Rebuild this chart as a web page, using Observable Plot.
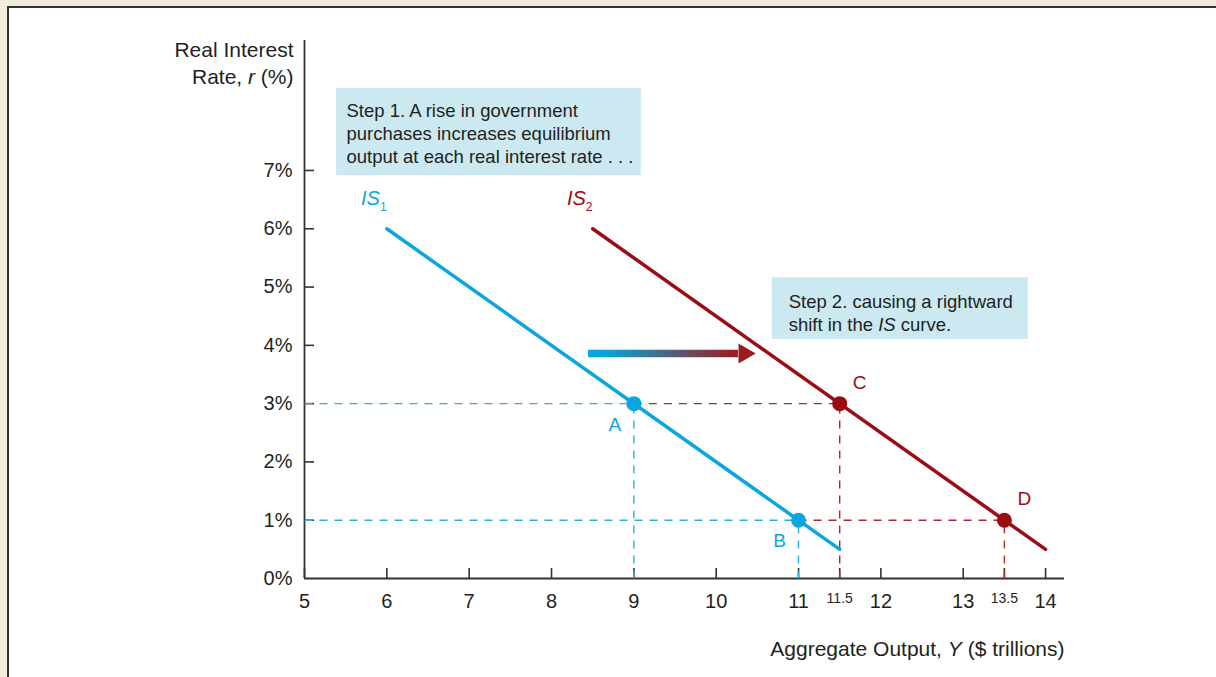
<!DOCTYPE html>
<html><head><meta charset="utf-8">
<script src="https://cdn.jsdelivr.net/npm/d3@7"></script>
<script src="https://cdn.jsdelivr.net/npm/@observablehq/plot@0.6"></script>
<style>
html,body{margin:0;padding:0;}
body{width:1216px;height:677px;background:#f3ecdc;position:relative;overflow:hidden;font-family:"Liberation Sans",Arial,Helvetica,sans-serif;}
#panel{position:absolute;left:7px;top:6px;right:0;bottom:0;background:#fff;border-left:2px solid #333;border-top:2px solid #333;}
#chart{position:absolute;left:0;top:0;}
</style></head><body><div id="panel"></div><div id="chart"></div>
<script>
// ---- data ----
const xTicks = [5, 6, 7, 8, 9, 10, 11, 12, 13, 14];
const xExtraTicks = [11.5, 13.5];
const yTicks = [0, 1, 2, 3, 4, 5, 6, 7];
const curveNames = ["IS1", "IS2"];
const curveStartY = [6, 8.5];
const curveEndY = [11.5, 14];
const curveStartR = [6, 6];
const curveEndR = [0.5, 0.5];
const pointNames = ["A", "B", "C", "D"];
const pointCurve = ["IS1", "IS1", "IS2", "IS2"];
const pointY = [9, 11, 11.5, 13.5];
const pointR = [3, 1, 3, 1];
const pointLabelSide = ["below-left", "below-left", "above-right", "above-right"];
const noteTexts = [
  "Step 1. A rise in government\npurchases increases equilibrium\noutput at each real interest rate . . .",
  "Step 2. causing a rightward\nshift in the IS curve."
];
const noteLeft = [5.39, 10.68];
const noteRight = [9.09, 13.79];
const noteTop = [8.41, 5.16];
const noteBottom = [6.91, 4.10];
const noteTextX = [5.51, 10.88];
const noteTextY = [8.19, 4.915];
const shiftFrom = 8.45, shiftTo = 10.27, shiftR = 3.86;
const yTitle = "Real Interest\nRate, r (%)";
const xTitle = "Aggregate Output, Y ($ trillions)";

// ---- styles ----
const lineColor = {IS1: "#0ba6df", IS2: "#990d13"};
const guideColor = {IS1: "#2aaee3", IS2: "#a62a2f"};
const ink = "#231f20";
const FONT = '"Liberation Sans", Arial, Helvetica, sans-serif';

// ---- tables ----
const curves = curveNames.flatMap((c, i) => [
  {curve: c, y: curveStartY[i], r: curveStartR[i]},
  {curve: c, y: curveEndY[i], r: curveEndR[i]}
]);
const curveLabels = curveNames.map((c, i) => ({curve: c, y: curveStartY[i], r: curveStartR[i]}));
const points = pointNames.map((n, i) => ({name: n, curve: pointCurve[i], y: pointY[i], r: pointR[i], side: pointLabelSide[i]}));
const guides = [];
points.forEach(p => {
  const left = p.curve === "IS1" ? xTicks[0] : points.find(q => q.curve === "IS1" && q.r === p.r).y;
  guides.push({x1: left, x2: p.y, y1: p.r, y2: p.r, curve: p.curve});
  guides.push({x1: p.y, x2: p.y, y1: 0, y2: p.r, curve: p.curve});
});
const notes = noteTexts.map((t, i) => ({text: t, x1: noteLeft[i], x2: noteRight[i], y1: noteBottom[i], y2: noteTop[i], tx: noteTextX[i], ty: noteTextY[i]}));
const shift = [{x1: shiftFrom, x2: shiftTo, y: shiftR}];

const gradientDefs = (index, scales) => {
  const defs = d3.create("svg:defs");
  const g = defs.append("linearGradient").attr("id", "shiftGrad")
    .attr("gradientUnits", "userSpaceOnUse")
    .attr("x1", scales.x(shiftFrom)).attr("x2", scales.x(shiftTo))
    .attr("y1", 0).attr("y2", 0);
  g.append("stop").attr("offset", "0").attr("stop-color", "#00aae4");
  g.append("stop").attr("offset", "0.12").attr("stop-color", "#0ba3d6");
  g.append("stop").attr("offset", "1").attr("stop-color", "#9b1c1c");
  return defs.node();
};

const plot = Plot.plot({
  width: 1216,
  height: 677,
  marginLeft: 304,
  marginRight: 152,
  marginTop: 40,
  marginBottom: 99,
  style: {background: "none", fontFamily: FONT, color: ink, overflow: "visible"},
  x: {domain: [5, 14.23]},
  y: {domain: [0, 9.23]},
  marks: [
    gradientDefs,
    // annotation boxes
    Plot.rect(notes, {x1: "x1", x2: "x2", y1: "y1", y2: "y2", fill: "#cce9f1"}),
    Plot.text(notes, {x: "tx", y: "ty", text: "text", textAnchor: "start", lineAnchor: "top", fontSize: 18.5, lineHeight: 1.24, fill: ink}),
    // axes lines
    Plot.ruleY([0], {stroke: "#333", strokeWidth: 1.8}),
    Plot.ruleX([5], {stroke: "#333", strokeWidth: 1.8}),
    // ticks
    Plot.axisX(xTicks.concat(xExtraTicks), {tickSize: -10, text: null, stroke: "#333", strokeWidth: 1.6}),
    Plot.axisX(xTicks, {tickSize: 0, tickPadding: 15, fontSize: 20, fill: ink, label: null, tickFormat: d => String(d)}),
    Plot.axisX(xExtraTicks, {tickSize: 0, tickPadding: 15, fontSize: 14, fill: ink, label: null, tickFormat: d => String(d)}),
    Plot.axisY(yTicks.slice(1), {tickSize: -10, text: null, stroke: "#333", strokeWidth: 1.6}),
    Plot.axisY(yTicks, {tickSize: 0, tickPadding: 12, fontSize: 20, fill: ink, label: null, tickFormat: d => d + "%"}),
    // axis titles
    Plot.text([yTitle], {frameAnchor: "top-left", text: d => d, textAnchor: "end", lineAnchor: "top", dx: -11, dy: -3, fontSize: 21, lineHeight: 1.3, fill: ink}),
    Plot.text([xTitle], {frameAnchor: "bottom-right", text: d => d, textAnchor: "end", lineAnchor: "top", dy: 62.5, fontSize: 21, fill: ink}),
    // guides
    Plot.link(guides, {x1: "x1", y1: "y1", x2: "x2", y2: "y2", stroke: d => guideColor[d.curve], strokeWidth: 1.4, strokeDasharray: "8,7"}),
    // shift arrow
    Plot.ruleY(shift, {y: "y", x1: "x1", x2: "x2", stroke: "url(#shiftGrad)", strokeWidth: 7.5}),
    Plot.dot(shift, {x: "x2", y: "y", symbol: "triangle", r: 7.4, rotate: 90, fill: "#9b1c1c", dx: 5.8}),
    // IS curves
    Plot.line(curves, {x: "y", y: "r", z: "curve", stroke: d => lineColor[d.curve], strokeWidth: 3.5}),
    Plot.text(curveLabels, {x: "y", y: "r", text: "curve", fill: d => lineColor[d.curve], fontSize: 20, dx: -13, dy: -30}),
    // points
    Plot.dot(points, {x: "y", y: "r", r: 7.5, fill: d => lineColor[d.curve], stroke: "none"}),
    Plot.text(points.filter(p => p.side === "below-left"), {x: "y", y: "r", text: "name", fill: d => lineColor[d.curve], fontSize: 19, dx: -19, dy: 21}),
    Plot.text(points.filter(p => p.side === "above-right"), {x: "y", y: "r", text: "name", fill: d => lineColor[d.curve], fontSize: 19, dx: 20, dy: -21})
  ]
});

function richText(root, full, parts) {
  d3.select(root).selectAll("text, tspan").each(function () {
    if (this.childElementCount === 0 && this.textContent === full) {
      const s = d3.select(this);
      s.text(null);
      for (const [t, attrs] of parts) {
        const ts = s.append("tspan").text(t);
        if (attrs) for (const k in attrs) ts.attr(k, attrs[k]);
      }
    }
  });
}
const it = {"font-style": "italic"};
richText(plot, "IS1", [["IS", it], ["1", {"font-size": 12, "dy": 6}]]);
richText(plot, "IS2", [["IS", it], ["2", {"font-size": 12, "dy": 6}]]);
richText(plot, "shift in the IS curve.", [["shift in the "], ["IS", it], [" curve."]]);
richText(plot, "Rate, r (%)", [["Rate, "], ["r", it], [" (%)"]]);
richText(plot, xTitle, [["Aggregate Output, "], ["Y", it], [" ($ trillions)"]]);

document.getElementById("chart").appendChild(plot);
</script></body></html>
